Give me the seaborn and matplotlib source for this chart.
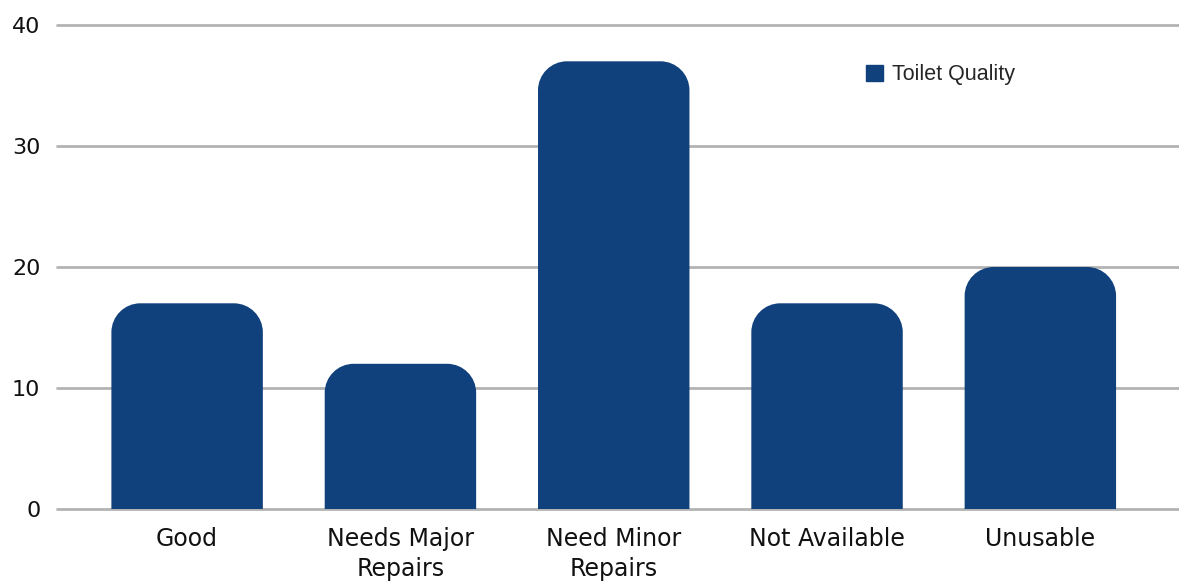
import matplotlib
matplotlib.use("Agg")
import matplotlib.pyplot as plt
from matplotlib.path import Path
from matplotlib.patches import PathPatch, Patch
from matplotlib import font_manager
import seaborn as sns

# chart data
categories = ["Good", "Needs Major\nRepairs", "Need Minor\nRepairs", "Not Available", "Unusable"]
counts = [17, 12, 37, 17, 20]
series_name = "Toilet Quality"
y_ticks = [0, 10, 20, 30, 40]

bar_color = "#10417c"
grid_color = "#b3b3b3"

sns.set_theme(style="white")
plt.rcParams['font.family'] = ['DejaVu Sans']

W, H = 1179, 582
fig = plt.figure(figsize=(W / 100, H / 100), dpi=100)
ax = fig.add_axes([57 / W, 1 - 509 / H, 1 - 57 / W, (509 - 25) / H])

sns.barplot(x=categories, y=counts, color=bar_color, width=0.71, saturation=1, ax=ax)
ax.set_xlim(-0.61, 4.65)
ax.set_ylim(0, 40)

# swap the plain rectangles for bars with rounded top corners
radius_px = 29
px_x = (1 - 57 / W) * W / (ax.get_xlim()[1] - ax.get_xlim()[0])
px_y = (509 - 25) / 40
rx, ry = radius_px / px_x, radius_px / px_y
k = 0.5523
for p in list(ax.patches):
    x0, w, h = p.get_x(), p.get_width(), p.get_height()
    x1 = x0 + w
    verts = [
        (x0, 0), (x0, h - ry),
        (x0, h - ry + k * ry), (x0 + rx - k * rx, h), (x0 + rx, h),
        (x1 - rx, h),
        (x1 - rx + k * rx, h), (x1, h - ry + k * ry), (x1, h - ry),
        (x1, 0), (x0, 0),
    ]
    codes = [Path.MOVETO, Path.LINETO,
             Path.CURVE4, Path.CURVE4, Path.CURVE4,
             Path.LINETO,
             Path.CURVE4, Path.CURVE4, Path.CURVE4,
             Path.LINETO, Path.CLOSEPOLY]
    p.remove()
    ax.add_patch(PathPatch(Path(verts, codes), facecolor=bar_color, edgecolor="none", zorder=2))

ax.set_yticks(y_ticks)
ax.yaxis.grid(True, color=grid_color, lw=2)
for gl in ax.get_ygridlines():
    gl.set_clip_on(False)
ax.set_axisbelow(True)
for s in ax.spines.values():
    s.set_visible(False)

ax.tick_params(axis="y", length=0, pad=12, labelsize=16, labelcolor="#111111")
ax.tick_params(axis="x", length=0, pad=13, labelsize=17, labelcolor="#111111")
for t in ax.get_xticklabels():
    t.set_linespacing(1.3)
ax.set_xlabel("")
ax.set_ylabel("")

# narrow face for the legend if there is one
names = {f.name for f in font_manager.fontManager.ttflist}
legend_family = "Liberation Sans Narrow" if "Liberation Sans Narrow" in names else "Liberation Sans"
legend_size = 17 if legend_family == "Liberation Sans Narrow" else 15.5

ax.legend(handles=[Patch(color=bar_color, label=series_name)],
          loc="center left", bbox_to_anchor=(0.704, 0.897), frameon=False,
          handlelength=0.8, handleheight=0.8, handletextpad=0.4,
          prop={"family": legend_family, "size": legend_size})

fig.savefig("out.png", dpi=100)
